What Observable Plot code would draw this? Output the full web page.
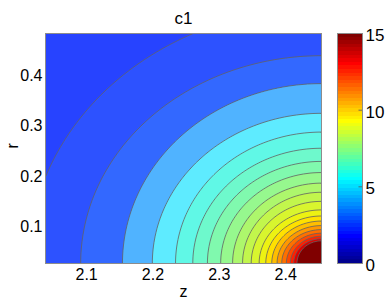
<!DOCTYPE html>
<html><head><meta charset="utf-8">
<script src="https://cdn.jsdelivr.net/npm/d3@7"></script>
<script src="https://cdn.jsdelivr.net/npm/@observablehq/plot@0.6"></script>
<style>
html,body{margin:0;padding:0;background:#fff;}
#chart{position:relative;width:388px;height:301px;font-family:"Liberation Sans",Arial,Helvetica,sans-serif;}
#chart svg{position:absolute;top:0;}
</style></head><body><div id="chart"></div>
<script>
const title = "c1";
const xLabel = "z";
const yLabel = "r";
const zTicks = [2.1, 2.2, 2.3, 2.4];
const rTicks = [0.1, 0.2, 0.3, 0.4];
const colorbarTicks = [0, 5, 10, 15];
const zDomain = [2.038, 2.454];
const rDomain = [0.028, 0.483];
const colorDomain = [0, 15];

// contour levels of c1 (estimated)
const levels = [2.6, 3.2, 3.8, 4.4, 5.0, 5.6, 6.2, 6.8, 7.4, 8.0, 8.6, 9.2, 9.8, 10.4, 11.0, 11.6, 12.2, 12.8, 13.4, 14.0];
// z where each contour meets the bottom edge (r = 0.028)
const levelZAtBottom = [2.012, 2.091, 2.154, 2.199, 2.234, 2.260, 2.282, 2.302, 2.320, 2.335, 2.348, 2.360, 2.370, 2.379, 2.387, 2.394, 2.401, 2.407, 2.412, 2.417];
// r where each contour meets the right edge (z = 2.454)
const levelRAtRight = [0.534, 0.439, 0.384, 0.325, 0.288, 0.256, 0.230, 0.208, 0.187, 0.169, 0.151, 0.134, 0.122, 0.112, 0.103, 0.095, 0.088, 0.082, 0.077, 0.073];

// fill colour of each band (below first level, between levels, above last level)
const bandColors = ["#2743ff","#2d52ff","#3368ff","#50b3ff","#5eebff","#60f8e6","#6ef9cc","#80f9ae","#96f88e","#adf76c","#c2f64c","#d8f52e","#edf212","#ffe000","#ffbe00","#ff9800","#ff7000","#ff4800","#ff2000","#dd0000","#800000"];

// field reconstructed from the contour crossings (nested elliptical contours)
const zc = zDomain[1], rc = rDomain[0];
const A = levelZAtBottom.map(z => zc - z);
const B = levelRAtRight.map(r => r - rc);
function c1(z, r) {
  const dz = zc - z, dr = r - rc;
  const e = A.map((a, i) => Math.hypot(dz / a, dr / B[i]));
  const n = levels.length;
  if (e[0] >= 1) return levels[0] - (e[0] - 1) * 3;
  for (let k = 0; k < n - 1; k++) {
    if (e[k + 1] > 1) return levels[k] + (1 - e[k]) / (e[k + 1] - e[k]) * (levels[k + 1] - levels[k]);
  }
  return levels[n - 1] + (1 - e[n - 1]) * 4;
}

// MATLAB jet(64)
function jet(m) {
  const n = Math.ceil(m / 4);
  const u = k => k <= n ? k / n : (k < 2 * n ? 1 : (3 * n - k) / n);
  const L = 3 * n - 1;
  const ch = k => (k >= 1 && k <= L) ? Math.max(0, Math.min(1, u(k))) : 0;
  const out = [];
  for (let i = 1; i <= m; i++) {
    const r = ch(i - 24), g = ch(i - 8), b = ch(i + 8);
    out.push(d3.rgb(r * 255, g * 255, b * 255).formatHex());
  }
  return out;
}

const font = '"Liberation Sans", Arial, Helvetica, sans-serif';
const chart = document.getElementById("chart");

const main = Plot.plot({
  width: 330, height: 301,
  marginLeft: 45, marginRight: 9, marginTop: 33, marginBottom: 38,
  style: {fontFamily: font, fontSize: "16px", color: "#000", background: "transparent", overflow: "visible"},
  x: {domain: zDomain},
  y: {domain: rDomain},
  color: {type: "threshold", domain: levels, range: bandColors},
  marks: [
    Plot.contour({
      x1: zDomain[0], x2: zDomain[1], y1: rDomain[0], y2: rDomain[1],
      fill: c1, thresholds: [0, ...levels], pixelSize: 1,
      stroke: "#626262", strokeWidth: 0.8
    }),
    Plot.frame({stroke: "#8c8c8c"}),
    Plot.axisX(zTicks, {tickSize: 0, tickPadding: 5, tickFormat: d3.format(".1f"), label: null, fontSize: 16}),
    Plot.axisY(rTicks, {tickSize: 0, tickPadding: 3, tickFormat: d3.format(".1f"), label: null, fontSize: 16}),
    Plot.text([title], {frameAnchor: "top", lineAnchor: "middle", dy: -15, fontSize: 17}),
    Plot.text([xLabel], {frameAnchor: "bottom", lineAnchor: "middle", dy: 28, fontSize: 16}),
    Plot.text([yLabel], {frameAnchor: "left", lineAnchor: "middle", dx: -33, rotate: -90, fontSize: 16})
  ]
});
main.style.left = "0px";
main.querySelectorAll('g[aria-label$="tick label"] text').forEach(t => { t.style.fontSize = "16px"; });
chart.appendChild(main);

const jetColors = jet(64);
const cells = jetColors.map((c, i) => ({y1: i * 15 / 64, y2: (i + 1) * 15 / 64, c}));
const cbar = Plot.plot({
  width: 67, height: 301,
  marginLeft: 16, marginRight: 26, marginTop: 33, marginBottom: 38,
  style: {fontFamily: font, fontSize: "17px", color: "#000", background: "transparent", overflow: "visible"},
  x: {domain: [0, 1], axis: null},
  y: {domain: colorDomain},
  color: {type: "identity"},
  marks: [
    Plot.rect(cells, {x1: 0, x2: 1, y1: "y1", y2: "y2", fill: "c", shapeRendering: "crispEdges"}),
    Plot.ruleY([5, 10], {x1: 0.86, x2: 1, stroke: "#555", strokeWidth: 0.8}),
    Plot.frame({stroke: "#8c8c8c"}),
    Plot.axisY(colorbarTicks, {anchor: "right", tickSize: 0, tickPadding: 3, label: null, fontSize: 17, dy: 2})
  ]
});
cbar.style.left = "321px";
chart.appendChild(cbar);
</script>
</body></html>
